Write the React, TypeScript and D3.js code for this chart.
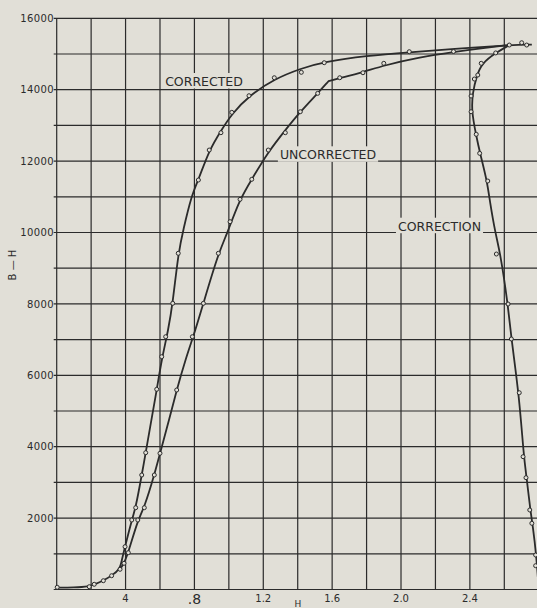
import React, { useEffect, useRef } from "react";
import * as d3 from "d3";

type Pt = [number, number];

// grid and tick labels
const xGrid = [0, 0.2, 0.4, 0.6, 0.8, 1.0, 1.2, 1.4, 1.6, 1.8, 2.0, 2.2, 2.4, 2.6];
const xLabelValues = [0.4, 0.8, 1.2, 1.6, 2.0, 2.4];
const xLabelTexts = ["4", ".8", "1.2", "1.6", "2.0", "2.4"];
const yGrid = [0, 1000, 2000, 3000, 4000, 5000, 6000, 7000, 8000, 9000, 10000, 11000, 12000, 13000, 14000, 15000, 16000];
const yLabelValues = [2000, 4000, 6000, 8000, 10000, 12000, 14000, 16000];

// smooth curves (H, B-H)
const correctedLine: Pt[] = [
  [0, 50], [0.1, 55], [0.19, 85], [0.22, 140], [0.27, 245], [0.32, 390], [0.368, 570],
  [0.378, 826], [0.397, 1200], [0.436, 1947], [0.459, 2291], [0.494, 3207], [0.517, 3832],
  [0.55, 4750], [0.581, 5588], [0.61, 6450], [0.648, 7266], [0.674, 8016], [0.706, 9417],
  [0.735, 10070], [0.784, 11050], [0.823, 11470], [0.886, 12310], [0.954, 12850],
  [1.017, 13320], [1.117, 13831], [1.264, 14300], [1.421, 14600], [1.554, 14780],
  [1.8, 14950], [2.048, 15050], [2.3, 15140], [2.629, 15251], [2.76, 15265],
];

// the corner at H = 1.58 is repeated so the spline keeps it sharp
const uncorrectedLine: Pt[] = [
  [0.368, 570], [0.391, 734], [0.416, 1031], [0.471, 1947], [0.509, 2291], [0.567, 3207],
  [0.6, 3815], [0.65, 4700], [0.697, 5588], [0.745, 6400], [0.806, 7266], [0.852, 8016],
  [0.939, 9417], [0.991, 9977], [1.061, 10910], [1.133, 11490], [1.229, 12260],
  [1.328, 12870], [1.415, 13383], [1.516, 13898], [1.58, 14243], [1.58, 14243], [1.58, 14243],
  [1.644, 14325], [1.78, 14490], [1.9, 14680], [2.1, 14900], [2.306, 15060], [2.5, 15180],
  [2.629, 15251],
];

const correctionLine: Pt[] = [
  [2.629, 15251], [2.55, 15030], [2.47, 14740], [2.44, 14400], [2.415, 13900],
  [2.41, 13400], [2.435, 12750], [2.46, 12200], [2.5, 11440], [2.515, 10900],
  [2.548, 9976], [2.577, 9417], [2.62, 8016], [2.641, 7017], [2.687, 5400],
  [2.713, 3720], [2.73, 3130], [2.751, 2227], [2.765, 1800], [2.786, 966], [2.8, 0],
];

// observed points
const footPoints: Pt[] = [
  [0.003, 62], [0.189, 78], [0.218, 146], [0.271, 246], [0.319, 386], [0.368, 566],
];

const correctedPoints: Pt[] = [
  [0.397, 1199], [0.436, 1947], [0.459, 2291], [0.494, 3207], [0.517, 3832], [0.581, 5608],
  [0.61, 6521], [0.633, 7081], [0.674, 8016], [0.706, 9417], [0.823, 11470], [0.886, 12310],
  [0.954, 12795], [1.017, 13366], [1.117, 13831], [1.264, 14335], [1.421, 14487],
  [1.554, 14756], [2.048, 15064], [2.629, 15251], [2.701, 15316], [2.73, 15251],
];

const uncorrectedPoints: Pt[] = [
  [0.391, 734], [0.416, 1031], [0.471, 1947], [0.509, 2291], [0.567, 3207], [0.6, 3815],
  [0.697, 5588], [0.788, 7081], [0.852, 8016], [0.939, 9417], [1.007, 10302],
  [1.065, 10929], [1.133, 11490], [1.229, 12310], [1.328, 12795], [1.415, 13383],
  [1.516, 13898], [1.644, 14335], [1.779, 14475], [1.9, 14739], [2.305, 15070],
];

const correctionPoints: Pt[] = [
  [2.55, 15030], [2.466, 14739], [2.446, 14411], [2.426, 14299], [2.407, 13823],
  [2.407, 13383], [2.437, 12750], [2.457, 12218], [2.504, 11442], [2.554, 9397],
  [2.622, 7997], [2.641, 7017], [2.687, 5512], [2.709, 3720], [2.726, 3132],
  [2.748, 2227], [2.76, 1854], [2.782, 966], [2.782, 667],
];

const W = 537;
const H = 608;
const paper = "#e1dfd7";
const ink = "#2b2b2b";

export default function App() {
  const ref = useRef<SVGSVGElement>(null);

  useEffect(() => {
    const svg = d3.select(ref.current);
    svg.selectAll("*").remove();

    const x = d3.scaleLinear().domain([0, 2.6]).range([56.7, 504.3]);
    const y = d3.scaleLinear().domain([0, 16000]).range([589.5, 18.3]);

    svg.append("rect").attr("width", W).attr("height", H).attr("fill", paper);

    // grid
    const grid = svg.append("g").attr("stroke", ink).attr("stroke-width", 1.2);
    grid
      .selectAll("line.v")
      .data(xGrid)
      .join("line")
      .attr("x1", (d) => x(d))
      .attr("x2", (d) => x(d))
      .attr("y1", y(0))
      .attr("y2", y(16000));
    grid
      .selectAll("line.h")
      .data(yGrid)
      .join("line")
      .attr("x1", x(0) - 3)
      .attr("x2", W)
      .attr("y1", (d) => y(d))
      .attr("y2", (d) => y(d));

    // y labels
    svg
      .append("g")
      .attr("font-family", "DejaVu Sans")
      .attr("font-size", 10)
      .attr("letter-spacing", 0.4)
      .attr("fill", ink)
      .attr("text-anchor", "end")
      .selectAll("text")
      .data(yLabelValues)
      .join("text")
      .attr("x", 54)
      .attr("y", (d) => y(d))
      .attr("dy", "0.36em")
      .text((d) => d);

    // x labels
    svg
      .append("g")
      .attr("font-family", "DejaVu Sans")
      .attr("fill", ink)
      .attr("text-anchor", "middle")
      .selectAll("text")
      .data(xLabelValues)
      .join("text")
      .attr("x", (d) => x(d))
      .attr("y", (d, i) => (i === 1 ? 604 : 601.5))
      .attr("font-size", (d, i) => (i === 1 ? 14 : 10))
      .text((d, i) => xLabelTexts[i]);

    svg
      .append("text")
      .attr("x", 298)
      .attr("y", 607)
      .attr("text-anchor", "middle")
      .attr("font-family", "DejaVu Sans")
      .attr("font-size", 9)
      .attr("fill", ink)
      .text("H");

    svg
      .append("text")
      .attr("transform", "translate(16,265) rotate(-90)")
      .attr("text-anchor", "middle")
      .attr("font-family", "DejaVu Sans")
      .attr("font-size", 10)
      .attr("fill", ink)
      .text("B — H");

    // curves, hand-faired through the points
    const line = d3
      .line<Pt>()
      .x((d) => x(d[0]))
      .y((d) => y(d[1]))
      .curve(d3.curveBasis);

    svg
      .append("g")
      .attr("fill", "none")
      .attr("stroke", ink)
      .attr("stroke-width", 1.8)
      .selectAll("path")
      .data([correctedLine, uncorrectedLine, correctionLine])
      .join("path")
      .attr("d", (d) => line(d));

    // markers
    const pts = [...footPoints, ...correctedPoints, ...uncorrectedPoints, ...correctionPoints];
    svg
      .append("g")
      .attr("fill", paper)
      .attr("stroke", ink)
      .attr("stroke-width", 1)
      .selectAll("circle")
      .data(pts)
      .join("circle")
      .attr("cx", (d) => x(d[0]))
      .attr("cy", (d) => y(d[1]))
      .attr("r", 2);

    // curve labels with paper knock-out
    const labels = [
      { t: "CORRECTED", x: 204, y: 86 },
      { t: "UNCORRECTED", x: 328, y: 159.3 },
      { t: "CORRECTION", x: 439.5, y: 230.7 },
    ];
    const lg = svg.append("g");
    labels.forEach((l) => {
      const g = lg.append("g");
      const rect = g.append("rect").attr("fill", paper);
      const txt = g
        .append("text")
        .attr("x", l.x)
        .attr("y", l.y)
        .attr("text-anchor", "middle")
        .attr("font-family", "DejaVu Sans")
        .attr("font-size", 12.5)
        .attr("fill", ink)
        .text(l.t);
      const bb = (txt.node() as SVGTextElement).getBBox();
      rect
        .attr("x", bb.x - 2)
        .attr("y", l.y - 13)
        .attr("width", bb.width + 4)
        .attr("height", 15.5);
    });
  }, []);

  return (
    <svg
      ref={ref}
      width={W}
      height={H}
      style={{ position: "absolute", left: 0, top: 0, display: "block" }}
    />
  );
}
